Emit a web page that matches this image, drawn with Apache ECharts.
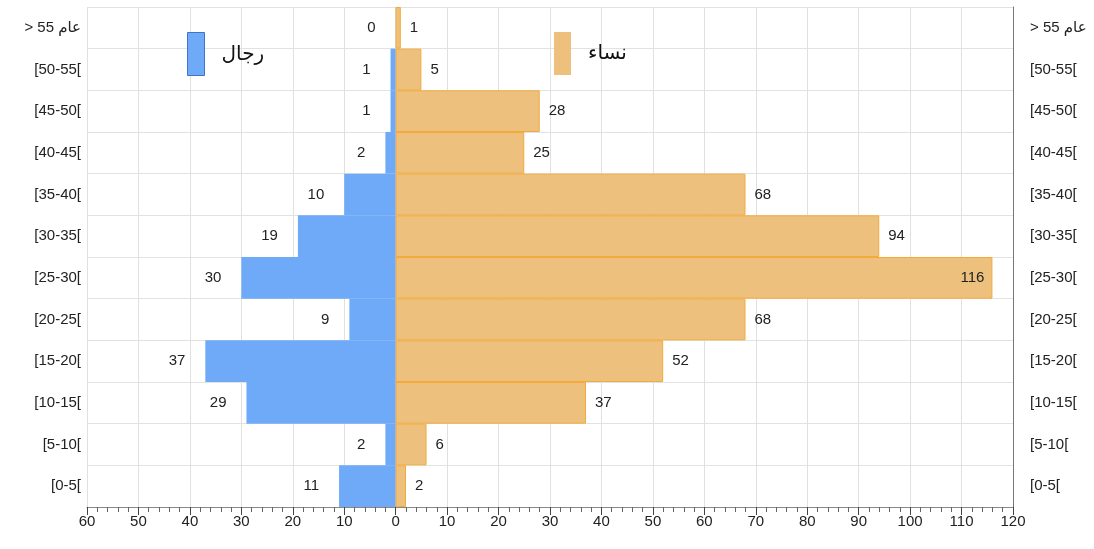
<!DOCTYPE html>
<html dir="ltr" lang="en"><head><meta charset="utf-8">
<script src="https://cdn.jsdelivr.net/npm/echarts@6/dist/echarts.min.js"></script>
<style>html,body{margin:0;padding:0;background:#fff;direction:ltr}#c{width:1094px;height:549px;direction:ltr}</style>
</head><body dir="ltr"><div id="c" dir="ltr"></div>
<script>
const categories = ['[0-5[', '[5-10[', '[10-15[', '[15-20[', '[20-25[', '[25-30[', '[30-35[', '[35-40[', '[40-45[', '[45-50[', '[50-55[', '> 55 عام'];
const men = [11, 2, 29, 37, 9, 30, 19, 10, 2, 1, 1, 0];
const women = [2, 6, 37, 52, 68, 116, 94, 68, 25, 28, 5, 1];
const menName = 'رجال';
const womenName = 'نساء';
const FONT = '"Liberation Sans", "DejaVu Sans", Arial, sans-serif';

const chart = echarts.init(document.getElementById('c'));
const womenData = women.map(v => v >= 100 ? {value: v, label: {position: 'insideRight', distance: 8}} : v);
chart.setOption({
  animation: false,
  textStyle: {fontFamily: FONT},
  grid: {left: 87, right: 81, top: 7, bottom: 42, containLabel: false, show: false},
  legend: [
    {data: [{name: menName, icon: 'rect', itemStyle: {borderColor: '#3f74c8', borderWidth: 1}}],
     left: 182, top: 27, itemWidth: 17, itemHeight: 43,
     textStyle: {fontSize: 20, color: '#111', fontFamily: FONT, padding: [0, 0, 0, 12]}},
    {data: [{name: womenName, icon: 'rect', itemStyle: {borderWidth: 0}}],
     left: 549, top: 27, itemWidth: 17, itemHeight: 43,
     textStyle: {fontSize: 20, color: '#111', fontFamily: FONT, padding: [0, 0, 0, 12]}}
  ],
  xAxis: {
    type: 'value', min: -60, max: 120, interval: 10,
    axisLine: {show: true, lineStyle: {color: '#888'}},
    axisTick: {show: true, length: 8, lineStyle: {color: '#444'}},
    minorTick: {show: true, splitNumber: 5, length: 5, lineStyle: {color: '#666'}},
    splitLine: {show: true, lineStyle: {color: '#e0e0e0'}},
    axisLabel: {formatter: v => String(Math.abs(v)), fontSize: 15, color: '#222', margin: 7}
  },
  yAxis: [
    {type: 'category', data: categories, position: 'left',
     axisLine: {show: true, lineStyle: {color: '#dddddd'}},
     axisTick: {show: false},
     splitLine: {show: true, lineStyle: {color: '#e2e2e2'}},
     axisLabel: {fontSize: 15, color: '#222', margin: 6}},
    {type: 'category', data: categories, position: 'right',
     axisLine: {show: true, lineStyle: {color: '#777'}},
     axisTick: {show: false},
     axisLabel: {fontSize: 15, color: '#222', margin: 17}}
  ],
  series: [
    {name: menName, type: 'bar', data: men.map(v => -v), barCategoryGap: 0, barGap: '-100%',
     itemStyle: {color: '#6eaaf8'},
     label: {show: true, position: 'left', distance: 20, formatter: p => String(Math.abs(p.value)),
             fontSize: 15, color: '#222'}},
    {name: womenName, type: 'bar', data: womenData, barCategoryGap: 0, barGap: '-100%',
     itemStyle: {color: '#edc07e', borderColor: '#f2ab3a', borderWidth: 1},
     label: {show: true, position: 'right', distance: 9, fontSize: 15, color: '#222'}}
  ]
});
</script></body></html>
